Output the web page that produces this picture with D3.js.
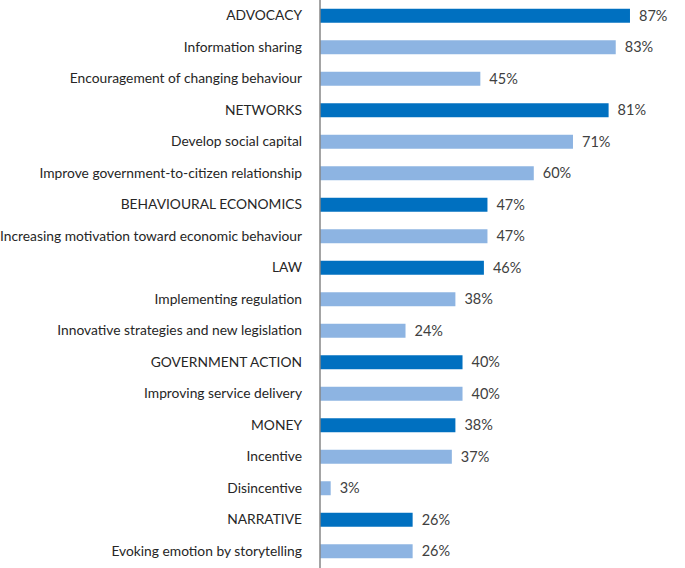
<!DOCTYPE html>
<html>
<head>
<meta charset="utf-8">
<script src="https://cdn.jsdelivr.net/npm/d3@7"></script>
<style>
  html, body { margin: 0; padding: 0; background: #fff; }
  svg { display: block; }
</style>
</head>
<body>
<svg id="chart" width="685" height="568"></svg>
<script>
const categories = [
  "ADVOCACY",
  "Information sharing",
  "Encouragement of changing behaviour",
  "NETWORKS",
  "Develop social capital",
  "Improve government-to-citizen relationship",
  "BEHAVIOURAL ECONOMICS",
  "Increasing motivation toward economic behaviour",
  "LAW",
  "Implementing regulation",
  "Innovative strategies and new legislation",
  "GOVERNMENT ACTION",
  "Improving service delivery",
  "MONEY",
  "Incentive",
  "Disincentive",
  "NARRATIVE",
  "Evoking emotion by storytelling"
];
const values = [87, 83, 45, 81, 71, 60, 47, 47, 46, 38, 24, 40, 40, 38, 37, 3, 26, 26];
const isGroup = [true, false, false, true, false, false, true, false, true, false, false, true, false, true, false, false, true, false];

const data = categories.map((c, i) => ({ name: c, value: values[i], group: isGroup[i] }));

const svg = d3.select("#chart");
const W = 685, H = 568;
const axisX = 320;

const x = d3.scaleLinear().domain([0, 100]).range([axisX, axisX + 356.3]);
const y = d3.scaleBand().domain(categories).range([0, 567]).paddingInner(0.556).paddingOuter(0.278);

const font = "Lato, 'Open Sans', sans-serif";

svg.append("g").selectAll("rect").data(data).join("rect")
  .attr("x", x(0))
  .attr("y", d => y(d.name))
  .attr("width", d => x(d.value) - x(0))
  .attr("height", y.bandwidth())
  .attr("fill", d => d.group ? "#0070C0" : "#8DB4E2");

svg.append("g").selectAll("text").data(data).join("text")
  .attr("x", d => x(d.value) + 9)
  .attr("y", d => y(d.name) + y.bandwidth() / 2)
  .attr("dy", "0.35em")
  .attr("font-family", font)
  .attr("font-size", "14.5px")
  .attr("fill", "#404040")
  .text(d => d.value + "%");

const yAxis = d3.axisLeft(y).tickSize(0).tickPadding(18);
const gy = svg.append("g").attr("transform", `translate(${axisX},0)`).call(yAxis);
gy.select(".domain").attr("stroke", "#868686").attr("stroke-width", 1.5).attr("d", `M0,0V${H}`);
gy.selectAll(".tick text")
  .attr("font-family", font)
  .attr("font-size", "13.8px")
  .attr("fill", "#262626");
</script>
</body>
</html>
